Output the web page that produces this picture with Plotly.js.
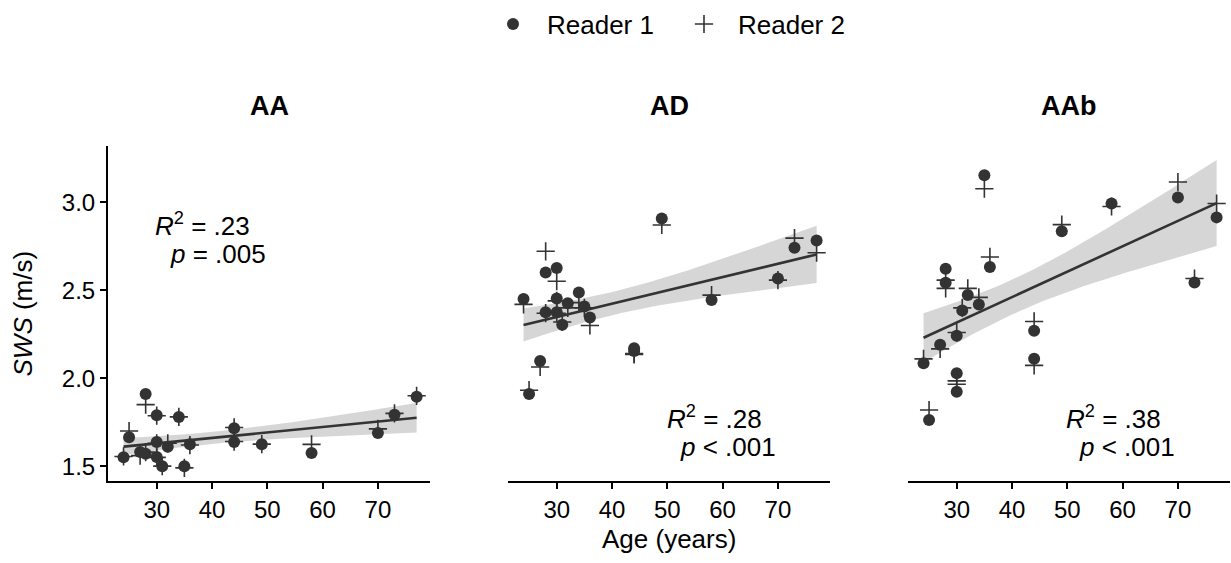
<!DOCTYPE html>
<html><head><meta charset="utf-8">
<script src="https://cdn.plot.ly/plotly-3.0.1.min.js"></script>
<style>html,body{margin:0;padding:0;background:#fff;}#chart{width:1231px;height:563px;}</style>
</head><body><div id="chart"></div>
<script>
// ---- data ----
const panels = ['AA', 'AD', 'AAb'];
const age = [24,25,27,28,28,30,30,30,31,32,34,35,36,44,44,49,58,70,73,77];

const aaReader1 = [1.55,1.665,1.58,1.91,1.57,1.79,1.637,1.552,1.50,1.61,1.78,1.50,1.624,1.716,1.637,1.624,1.575,1.688,1.793,1.895];
const aaReader2 = [1.555,1.70,1.56,1.85,1.58,1.787,1.63,1.55,1.50,1.63,1.78,1.49,1.62,1.72,1.64,1.625,1.624,1.712,1.80,1.90];

const adReader1 = [2.451,1.91,2.098,2.601,2.375,2.627,2.454,2.375,2.304,2.426,2.488,2.408,2.345,2.17,2.155,2.909,2.445,2.567,2.742,2.783];
const adReader2 = [2.42,1.932,2.064,2.722,2.37,2.552,2.44,2.37,2.32,2.40,2.43,2.40,2.30,2.135,2.14,2.872,2.473,2.558,2.797,2.714];

const aabReader1 = [2.085,1.763,2.19,2.623,2.543,2.242,2.028,1.923,2.385,2.474,2.42,3.155,2.633,2.27,2.111,2.836,2.994,3.028,2.545,2.915];
const aabReader2 = [2.11,1.819,2.167,2.558,2.511,2.26,1.985,1.966,2.40,2.511,2.46,3.078,2.69,2.323,2.073,2.874,2.977,3.116,2.567,2.994];

const r2Labels = ['.23', '.28', '.38'];
const pLabels = ['= .005', '< .001', '< .001'];
const xTicks = [30, 40, 50, 60, 70];
const yTicks = [1.5, 2.0, 2.5, 3.0];
const yTickText = ['1.5', '2.0', '2.5', '3.0'];

// ---- helpers ----
const T_CRIT = 2.024; // t(0.975, df = 38)
function linfit(xs, ys) {
  const n = xs.length;
  const mx = xs.reduce((a, b) => a + b, 0) / n;
  const my = ys.reduce((a, b) => a + b, 0) / n;
  let sxx = 0, sxy = 0;
  for (let i = 0; i < n; i++) { sxx += (xs[i]-mx)**2; sxy += (xs[i]-mx)*(ys[i]-my); }
  const b = sxy / sxx, a = my - b*mx;
  let sse = 0;
  for (let i = 0; i < n; i++) sse += (ys[i] - a - b*xs[i])**2;
  const s = Math.sqrt(sse / (n - 2));
  const xmin = Math.min(...xs), xmax = Math.max(...xs);
  const gx = [], fy = [], lo = [], hi = [];
  const steps = 80;
  for (let k = 0; k <= steps; k++) {
    const x = xmin + (xmax - xmin) * k / steps;
    const f = a + b*x;
    const se = s * Math.sqrt(1/n + (x-mx)**2 / sxx);
    gx.push(x); fy.push(f); lo.push(f - T_CRIT*se); hi.push(f + T_CRIT*se);
  }
  return {gx, fy, lo, hi};
}

const series = [[aaReader1, aaReader2], [adReader1, adReader2], [aabReader1, aabReader2]];
const dark = '#333333';
const traces = [];
series.forEach((pair, i) => {
  const xa = i === 0 ? 'x' : 'x' + (i+1);
  const ya = i === 0 ? 'y' : 'y' + (i+1);
  const allX = age.concat(age);
  const allY = pair[0].concat(pair[1]);
  const f = linfit(allX, allY);
  traces.push({type:'scatter', mode:'lines', x: f.gx.concat(f.gx.slice().reverse()),
    y: f.hi.concat(f.lo.slice().reverse()), fill:'toself', fillcolor:'rgba(153,153,153,0.4)',
    line:{width:0}, hoverinfo:'skip', showlegend:false, xaxis:xa, yaxis:ya});
  traces.push({type:'scatter', mode:'markers', name:'Reader 1', x: age, y: pair[0],
    marker:{symbol:'circle', size:12, color:dark}, showlegend: i === 0, legendgroup:'r1', xaxis:xa, yaxis:ya});
  traces.push({type:'scatter', mode:'markers', name:'Reader 2', x: age, y: pair[1],
    marker:{symbol:'cross-thin-open', size:13, color:dark, line:{color:dark, width:1.6}},
    showlegend: i === 0, legendgroup:'r2', xaxis:xa, yaxis:ya});
  traces.push({type:'scatter', mode:'lines', x: f.gx, y: f.fy, line:{color:dark, width:2.6},
    hoverinfo:'skip', showlegend:false, xaxis:xa, yaxis:ya});
});

const W = 1122;
const fam = 'Liberation Sans, Arial, Helvetica, sans-serif';
const font = {family:fam, size:26, color:'#000'};
const tickFont = {family:fam, size:24, color:'#000'};
const titleFont = {family:fam, size:27, color:'#000'};
const xRange = [21.19, 79.42];
const yRange = [1.4155, 3.321];
function xAxis(d0, d1, anchor) {
  return {domain:[d0/W, d1/W], range:xRange, anchor:anchor, tickvals:xTicks, ticks:'outside',
    ticklen:6, tickwidth:2, tickcolor:'#000', showline:true, linecolor:'#000', linewidth:2,
    showgrid:false, zeroline:false, tickfont:tickFont};
}
function yAxis(anchor, show) {
  return {domain:[0,1], range:yRange, anchor:anchor, tickvals:yTicks, ticktext:yTickText,
    ticks: show ? 'outside' : '', ticklen:6, tickwidth:2, tickcolor:'#000', showline:show,
    linecolor:'#000', linewidth:2, showticklabels:show, showgrid:false, zeroline:false, tickfont:tickFont};
}

const annotations = [];
const centers = [161, 561, 961];
panels.forEach((p, i) => {
  annotations.push({xref:'paper', yref:'paper', x: centers[i]/W, y:(481-103)/338, text:'<b>'+p+'</b>',
    showarrow:false, font:titleFont, xanchor:'center', yanchor:'middle'});
});
// statistics text
const statPos = [
  {rx:29.3, ry:2.875, px:32.0, py:2.706},
  {rx:49.6, ry:1.778, px:52.0, py:1.609},
  {rx:49.4, ry:1.778, px:51.8, py:1.609}
];
statPos.forEach((s, i) => {
  const xa = i === 0 ? 'x' : 'x' + (i+1);
  const ya = i === 0 ? 'y' : 'y' + (i+1);
  annotations.push({xref:xa, yref:ya, x:s.rx, y:s.ry, text:'<i>R</i><sup>2</sup> = ' + r2Labels[i],
    showarrow:false, font:font, xanchor:'left', yanchor:'middle'});
  annotations.push({xref:xa, yref:ya, x:s.px, y:s.py, text:'<i>p</i> ' + pLabels[i],
    showarrow:false, font:font, xanchor:'left', yanchor:'middle'});
});
annotations.push({xref:'paper', yref:'paper', x:0.5, y:(481-540)/338, text:'Age (years)',
  showarrow:false, font:font, xanchor:'center', yanchor:'middle'});
annotations.push({xref:'paper', yref:'paper', x:(22-108)/W, y:(481-312)/338, text:'<i>SWS</i> (m/s)',
  showarrow:false, font:font, xanchor:'center', yanchor:'middle', textangle:-90});

const layout = {
  width:1231, height:563, margin:{l:108, r:1, t:143, b:82},
  paper_bgcolor:'#fff', plot_bgcolor:'#fff', font:font,
  xaxis: xAxis(0, 322, 'y'), xaxis2: xAxis(400, 722, 'y2'), xaxis3: xAxis(800, 1122, 'y3'),
  yaxis: yAxis('x', true), yaxis2: yAxis('x2', false), yaxis3: yAxis('x3', false),
  showlegend:true,
  legend:{orientation:'h', x:(479-108)/W, xanchor:'left', y:(481-20)/338, yanchor:'middle',
    font:font, itemwidth:58, entrywidth:118, entrywidthmode:'pixels', bgcolor:'rgba(0,0,0,0)'},
  annotations: annotations
};
Plotly.newPlot('chart', traces, layout, {staticPlot:true, displayModeBar:false});
</script></body></html>
